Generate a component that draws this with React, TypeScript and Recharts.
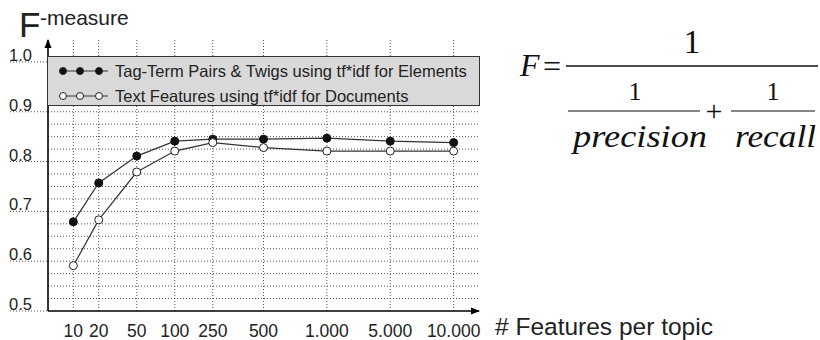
import React from 'react';
import {
  LineChart,
  Line,
  XAxis,
  YAxis,
  CartesianGrid,
  ReferenceDot,
} from 'recharts';

// features per topic (axis labels as printed) and where each sits on the stretched x axis
const featureLabels = ['10', '20', '50', '100', '250', '500', '1.000', '5.000', '10.000'];
const featureSlots = [1, 2, 3.5, 5, 6.5, 8.5, 11, 13.5, 16];

// F-measure values
const tagTermTwigs = [0.679, 0.757, 0.811, 0.841, 0.845, 0.845, 0.847, 0.841, 0.838];
const textFeatures = [0.591, 0.683, 0.779, 0.821, 0.838, 0.828, 0.821, 0.821, 0.821];

const yTicks = [0.5, 0.6, 0.7, 0.8, 0.9, 1.0];
const yGridLines = [
  0.525, 0.55, 0.575, 0.6, 0.625, 0.65, 0.675, 0.7, 0.725, 0.75,
  0.775, 0.8, 0.825, 0.85, 0.875, 0.9, 0.925, 0.95, 0.975, 1.0,
];

const seriesNames = {
  tag: 'Tag-Term Pairs & Twigs using tf*idf for Elements',
  text: 'Text Features using tf*idf for Documents',
};

const data = featureLabels.map((label, i) => ({
  slot: featureSlots[i],
  label,
  tag: tagTermTwigs[i],
  text: textFeatures[i],
}));

const SANS = '"Liberation Sans", Arial, sans-serif';
const SERIF = '"Liberation Serif", "Times New Roman", serif';
const INK = '#222';

const XTick = ({ x, y, payload }: any) => {
  const idx = featureSlots.indexOf(payload.value);
  return (
    <text x={x} y={y + 18} textAnchor="middle" fontFamily={SANS} fontSize={17.5} fill={INK}>
      {featureLabels[idx]}
    </text>
  );
};

const YTick = ({ y, payload }: any) => (
  <g>
    <line x1={10} x2={48} y1={y} y2={y} stroke="#555" strokeDasharray="1 2" />
    <text x={9} y={y - 1} fontFamily={SANS} fontSize={16.5} fill={INK}>
      {payload.value.toFixed(1)}
    </text>
  </g>
);

const LegendMarks = ({ filled }: { filled: boolean }) => (
  <svg width={56} height={12} style={{ verticalAlign: 'middle' }}>
    <line x1={6} x2={52} y1={6} y2={6} stroke="#333" strokeWidth={1} />
    {[7, 24, 43].map((cx) => (
      <circle
        key={cx}
        cx={cx}
        cy={6}
        r={3.5}
        fill={filled ? '#111' : '#fff'}
        stroke="#222"
        strokeWidth={1}
      />
    ))}
  </svg>
);

const LegendBox = () => (
  <div
    style={{
      position: 'absolute',
      left: 47,
      top: 56,
      width: 433,
      height: 50,
      boxSizing: 'border-box',
      background: '#d9d9d9',
      border: '1.5px solid #333',
      fontFamily: SANS,
      fontSize: 16.5,
      color: INK,
      padding: '0 0 0 8px',
      lineHeight: '24px',
      whiteSpace: 'nowrap',
    }}
  >
    <div>
      <LegendMarks filled />
      <span style={{ marginLeft: 3, verticalAlign: 'middle' }}>{seriesNames.tag}</span>
    </div>
    <div>
      <LegendMarks filled={false} />
      <span style={{ marginLeft: 3, verticalAlign: 'middle' }}>{seriesNames.text}</span>
    </div>
  </div>
);

const ArrowRight = ({ cx, cy }: any) => (
  <path d={`M${cx + 1},${cy} l-9,-3.5 v7 z`} fill="#000" />
);
const ArrowUp = ({ cx, cy }: any) => (
  <path d={`M${cx},${cy - 1} l-3.5,9 h7 z`} fill="#000" />
);

const Overlay = () => (
  <svg
    width={820}
    height={340}
    style={{ position: 'absolute', left: 0, top: 0, pointerEvents: 'none' }}
  >
    {/* y axis title */}
    <text x={19} y={37} fontFamily={SANS} fontSize={35} fill={INK}>F</text>
    <text x={40} y={25} fontFamily={SANS} fontSize={21} fill={INK}>-measure</text>

    {/* x axis title */}
    <text x={495} y={335} fontFamily={SANS} fontSize={24.5} fill={INK}>
      # Features per topic
    </text>

    {/* F = 1 / (1/precision + 1/recall) */}
    <g fontFamily={SERIF} fill="#111">
      <text x={520} y={76} fontSize={32} fontStyle="italic">F</text>
      <text x={543} y={77} fontSize={32}>=</text>
      <line x1={566} x2={818} y1={66} y2={66} stroke="#111" strokeWidth={1.4} />
      <text x={692} y={53} fontSize={34} textAnchor="middle">1</text>
      <text x={635} y={100} fontSize={26} textAnchor="middle">1</text>
      <line x1={568} x2={700} y1={111} y2={111} stroke="#111" strokeWidth={1.2} />
      <text x={714} y={121} fontSize={30} textAnchor="middle">+</text>
      <text x={773} y={100} fontSize={26} textAnchor="middle">1</text>
      <line x1={731} x2={815} y1={111} y2={111} stroke="#111" strokeWidth={1.2} />
      <text
        x={573}
        y={147}
        fontSize={32}
        fontStyle="italic"
        textLength={134}
        lengthAdjust="spacingAndGlyphs"
      >
        precision
      </text>
      <text
        x={735}
        y={147}
        fontSize={32}
        fontStyle="italic"
        textLength={81}
        lengthAdjust="spacingAndGlyphs"
      >
        recall
      </text>
    </g>
  </svg>
);

export default function App() {
  return (
    <div
      style={{
        position: 'absolute',
        left: 0,
        top: 0,
        width: 820,
        height: 340,
        background: '#fff',
      }}
    >
      <LineChart
        width={820}
        height={340}
        data={data}
        margin={{ top: 40, right: 341, left: 0, bottom: 0 }}
      >
        <CartesianGrid
          verticalValues={featureSlots}
          horizontalValues={yGridLines}
          stroke="#555"
          strokeDasharray="1 2"
        />
        <XAxis
          type="number"
          dataKey="slot"
          domain={[0, 17]}
          allowDataOverflow
          ticks={featureSlots}
          interval={0}
          height={29}
          tickLine={false}
          axisLine={{ stroke: '#000', strokeWidth: 1.6 }}
          tick={<XTick />}
        />
        <YAxis
          type="number"
          domain={[0.5, 1.044]}
          allowDataOverflow
          ticks={yTicks}
          interval={0}
          width={48}
          tickLine={false}
          axisLine={{ stroke: '#000', strokeWidth: 1.6 }}
          tick={<YTick />}
        />
        <Line
          type="linear"
          dataKey="tag"
          name={seriesNames.tag}
          stroke="#333"
          strokeWidth={1.2}
          dot={{ r: 4, fill: '#111', stroke: '#111', strokeWidth: 1 }}
          isAnimationActive={false}
        />
        <Line
          type="linear"
          dataKey="text"
          name={seriesNames.text}
          stroke="#333"
          strokeWidth={1.2}
          dot={{ r: 4, fill: '#fff', stroke: '#222', strokeWidth: 1 }}
          isAnimationActive={false}
        />
        <ReferenceDot x={17} y={0.5} shape={<ArrowRight />} ifOverflow="visible" />
        <ReferenceDot x={0} y={1.044} shape={<ArrowUp />} ifOverflow="visible" />
      </LineChart>
      <LegendBox />
      <Overlay />
    </div>
  );
}
